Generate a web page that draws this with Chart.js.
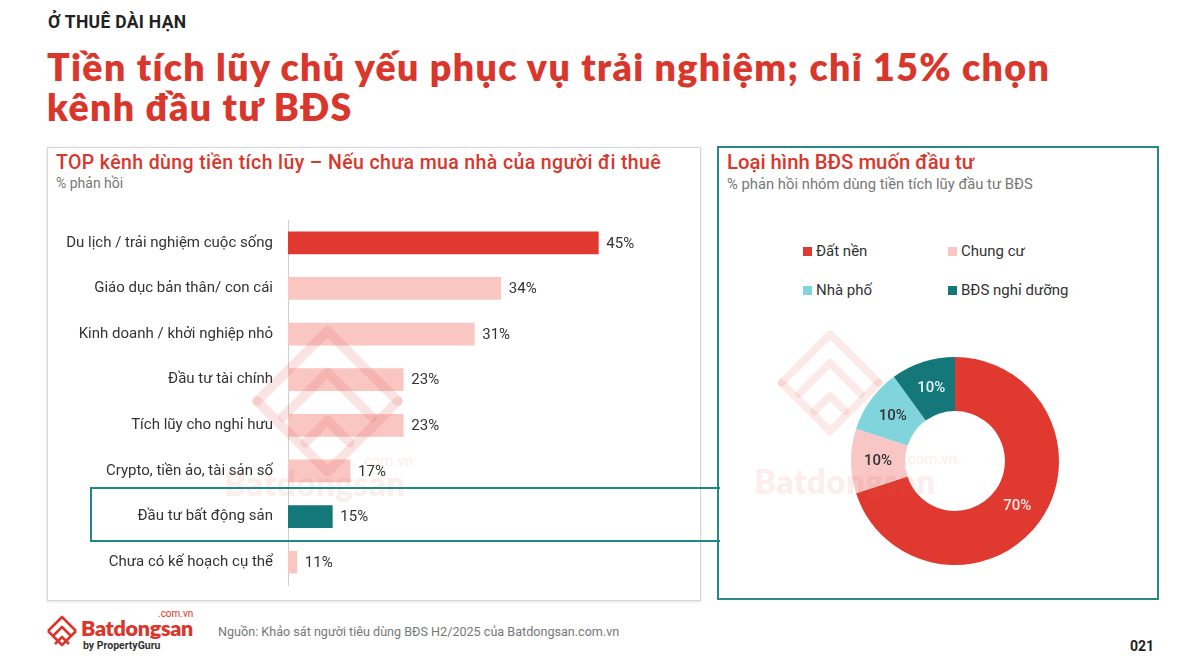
<!DOCTYPE html>
<html>
<head>
<meta charset="utf-8">
<script src="https://cdn.jsdelivr.net/npm/chart.js@4.4.1/dist/chart.umd.min.js"></script>
<style>
  html,body{margin:0;padding:0;background:#fff;}
  body{width:1200px;height:669px;position:relative;overflow:hidden;font-family:Roboto,"Noto Sans",sans-serif;color:#333;}
  .abs{position:absolute;}
  #kicker{left:48px;top:12px;font:700 17.5px Roboto;color:#222;letter-spacing:0.3px;}
  #title{left:47px;top:47px;font:800 37.5px Lato;color:#d9362c;line-height:40px;letter-spacing:1.35px;white-space:nowrap;}
  #leftPanel{left:47px;top:147px;width:652px;height:452px;border:1px solid #d6d6d6;box-shadow:0 1px 3px rgba(0,0,0,0.12);background:#fff;}
  #rightPanel{left:717px;top:146px;width:438px;height:450px;border:2px solid #2a8886;background:#fff;}
  .ptitle{color:#d9362c;white-space:nowrap;}
  .psub{color:#777;white-space:nowrap;}
  #callout{left:90px;top:487px;width:628px;height:51px;border:2px solid #1f8785;border-right:none;}
  #legend{left:803px;top:241px;display:grid;grid-template-columns:145px 150px;row-gap:19px;font:400 15px Roboto;color:#333;}
  #legend .it{display:flex;align-items:center;height:20px;white-space:nowrap;}
  #legend .sw{width:9px;height:9px;margin-right:4px;display:inline-block;}
  #source{left:218px;top:624px;font:400 12.6px Roboto;color:#777;white-space:nowrap;}
  #page{left:1130px;top:638px;font:700 14px Roboto;color:#222;}
  #logoText{left:81px;top:615px;font:800 21.5px Lato;color:#d9362c;letter-spacing:-0.3px;}
  #logoCom{left:158px;top:608px;font:400 10px Roboto;color:#d9362c;}
  #logoBy{left:83px;top:639px;font:700 10.5px Roboto;color:#333;}
  .wm{pointer-events:none;}
  .wmText{font:800 33px Lato;color:rgba(226,90,80,0.10);white-space:nowrap;letter-spacing:0.5px;}
  .wmCom{font:400 15px Roboto;color:rgba(226,90,80,0.12);white-space:nowrap;}
</style>
</head>
<body>
<div id="kicker" class="abs">Ở THUÊ DÀI HẠN</div>
<div id="title" class="abs">Tiền tích lũy chủ yếu phục vụ trải nghiệm; chỉ 15% chọn<br>kênh đầu tư BĐS</div>

<div id="leftPanel" class="abs"></div>
<div class="abs ptitle" style="left:56px;top:151px;font:500 19.5px Roboto;letter-spacing:0.38px;">TOP kênh dùng tiền tích lũy – Nếu chưa mua nhà của người đi thuê</div>
<div class="abs psub" style="left:56px;top:175px;font:400 14px Roboto;">% phản hồi</div>
<canvas id="bar" class="abs" width="640" height="375" style="left:50px;top:215px;"></canvas>

<div id="rightPanel" class="abs"></div>
<div class="abs ptitle" style="left:727px;top:150px;font:500 20.3px Roboto;">Loại hình BĐS muốn đầu tư</div>
<div class="abs psub" style="left:727px;top:175px;font:400 14.8px Roboto;">% phản hồi nhóm dùng tiền tích lũy đầu tư BĐS</div>
<div id="legend" class="abs"></div>
<canvas id="donut" class="abs" width="230" height="230" style="left:840px;top:346px;"></canvas>

<!-- faint watermarks -->
<svg class="abs wm" style="left:245px;top:318px;" width="165" height="160" viewBox="0 0 100 100">
  <g fill="none" stroke="rgba(226,90,80,0.16)" stroke-width="6" stroke-linejoin="round" stroke-linecap="round">
    <path d="M6 52 L50 8 L94 52"/>
    <path d="M22 62 L50 34 L78 62"/>
    <path d="M6 52 L50 96 L94 52"/>
    <path d="M36 78 L50 64 L64 78"/>
  </g>
</svg>
<div class="abs wm wmText" style="left:224px;top:463px;">Batdongsan</div>
<div class="abs wm wmCom" style="left:360px;top:452px;">.com.vn</div>
<svg class="abs wm" style="left:775px;top:318px;" width="110" height="125" viewBox="0 0 100 100">
  <g fill="none" stroke="rgba(226,90,80,0.13)" stroke-width="7" stroke-linejoin="round" stroke-linecap="round">
    <path d="M6 52 L50 8 L94 52"/>
    <path d="M22 62 L50 34 L78 62"/>
    <path d="M6 52 L50 96 L94 52"/>
    <path d="M36 78 L50 64 L64 78"/>
  </g>
</svg>
<div class="abs wm wmText" style="left:754px;top:461px;">Batdongsan</div>
<div class="abs wm wmCom" style="left:904px;top:450px;">.com.vn</div>

<div id="callout" class="abs"></div>

<svg class="abs" style="left:45px;top:614px;" width="36" height="36" viewBox="0 0 36 36">
  <g fill="none" stroke="#d9362c" stroke-width="2.6" stroke-linejoin="round">
    <path d="M3 17 L17 3 L31 17"/>
    <path d="M8 22 L17 13 L26 22"/>
    <path d="M3 17 L17 31 L31 17"/>
    <path d="M10 30 L17 23 L24 30"/>
  </g>
</svg>
<div id="logoText" class="abs">Batdongsan</div>
<div id="logoCom" class="abs">.com.vn</div>
<div id="logoBy" class="abs">by PropertyGuru</div>
<div id="source" class="abs">Nguồn: Khảo sát người tiêu dùng BĐS H2/2025 của Batdongsan.com.vn</div>
<div id="page" class="abs">021</div>

<script>
// ---- Data: left bar chart ----
const channelLabels = [
  "Du lịch / trải nghiệm cuộc sống",
  "Giáo dục bản thân/ con cái",
  "Kinh doanh / khởi nghiệp nhỏ",
  "Đầu tư tài chính",
  "Tích lũy cho nghỉ hưu",
  "Crypto, tiền ảo, tài sản số",
  "Đầu tư bất động sản",
  "Chưa có kế hoạch cụ thể"
];
const channelValues = [45, 34, 31, 23, 23, 17, 15, 11];

// ---- Data: right donut chart ----
const typeLabels = ["Đất nền", "Chung cư", "Nhà phố", "BĐS nghỉ dưỡng"];
const typeValues = [70, 10, 10, 10];

// ---- Styles ----
const RED = "#e03a30", PINK = "#f9c6c2", TEAL = "#14777a", CYAN = "#80d5dc";
const barColors = channelLabels.map((_, i) => i === 0 ? RED : (i === 6 ? TEAL : PINK));
const donutColors = [RED, "#f8c6c4", CYAN, TEAL];
const donutLabelColors = ["#fde8e6", "#333333", "#333333", "#e8f4f4"];

const barValueLabels = {
  id: "barValueLabels",
  afterDatasetsDraw(chart) {
    const ctx = chart.ctx;
    const meta = chart.getDatasetMeta(0);
    ctx.save();
    ctx.font = "400 15px Roboto";
    ctx.fillStyle = "#333";
    ctx.textAlign = "left";
    ctx.textBaseline = "middle";
    meta.data.forEach((el, i) => {
      ctx.fillText(chart.data.datasets[0].data[i] + "%", el.x + 8, el.y + 1);
    });
    ctx.restore();
  }
};

new Chart(document.getElementById("bar"), {
  type: "bar",
  data: {
    labels: channelLabels,
    datasets: [{
      data: channelValues,
      backgroundColor: barColors,
      borderWidth: 0,
      barThickness: 22,
      base: 10
    }]
  },
  options: {
    indexAxis: "y",
    responsive: false,
    animation: false,
    layout: { padding: { top: 5, bottom: 5, right: 3, left: 0 } },
    plugins: { legend: { display: false }, tooltip: { enabled: false } },
    scales: {
      x: { display: false, min: 10, max: 55 },
      y: {
        grid: { display: false, drawTicks: false },
        border: { display: true, color: "#cfcfcf", width: 1 },
        ticks: { color: "#333", font: { family: "Roboto", size: 15 }, padding: 15 },
        afterFit(scale) { scale.width = 238; scale.paddingTop = 0; scale.paddingBottom = 0; }
      }
    }
  },
  plugins: [barValueLabels]
});

const donutLabels = {
  id: "donutLabels",
  afterDatasetsDraw(chart) {
    const ctx = chart.ctx;
    const meta = chart.getDatasetMeta(0);
    ctx.save();
    ctx.font = "500 15px Roboto";
    ctx.textAlign = "center";
    ctx.textBaseline = "middle";
    meta.data.forEach((el, i) => {
      const p = el.tooltipPosition();
      ctx.fillStyle = donutLabelColors[i];
      ctx.fillText(chart.data.datasets[0].data[i] + "%", p.x, p.y);
    });
    ctx.restore();
  }
};

new Chart(document.getElementById("donut"), {
  type: "doughnut",
  data: {
    labels: typeLabels,
    datasets: [{ data: typeValues, backgroundColor: donutColors, borderWidth: 0 }]
  },
  options: {
    responsive: false,
    animation: false,
    cutout: "48%",
    layout: { padding: 11 },
    plugins: { legend: { display: false }, tooltip: { enabled: false } }
  },
  plugins: [donutLabels]
});

// HTML legend built from the donut data
const legend = document.getElementById("legend");
typeLabels.forEach((lab, i) => {
  const it = document.createElement("div");
  it.className = "it";
  const sw = document.createElement("span");
  sw.className = "sw";
  sw.style.background = donutColors[i];
  it.appendChild(sw);
  it.appendChild(document.createTextNode(lab));
  legend.appendChild(it);
});
</script>
</body>
</html>
